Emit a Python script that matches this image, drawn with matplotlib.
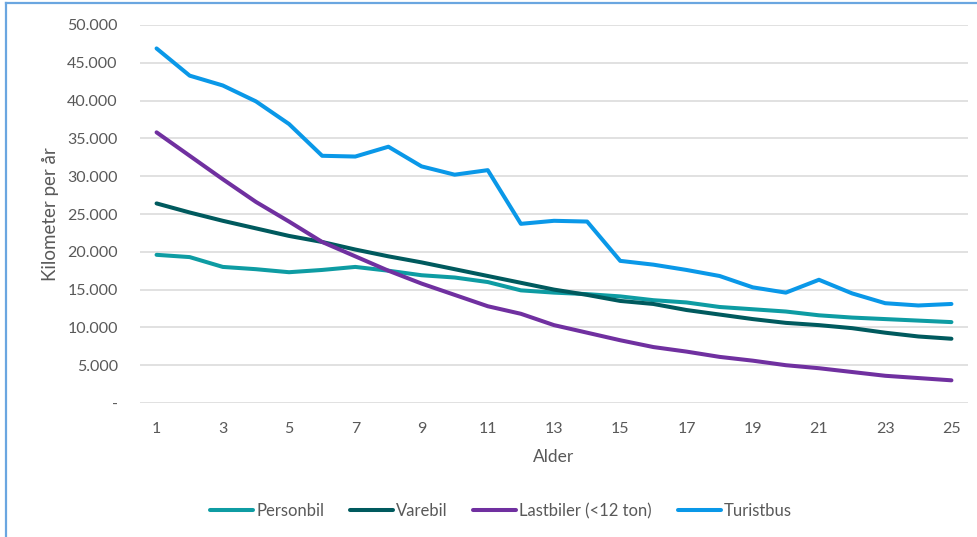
import matplotlib.pyplot as plt
from matplotlib.lines import Line2D
from matplotlib.ticker import FuncFormatter

# Kilometer per år fordelt på køretøjets alder
alder = list(range(1, 26))
personbil = [19600, 19300, 18000, 17700, 17300, 17600, 18000, 17500, 16900, 16600,
             16000, 14900, 14600, 14400, 14100, 13600, 13300, 12700, 12400, 12100,
             11600, 11300, 11100, 10900, 10700]
varebil = [26400, 25200, 24100, 23100, 22100, 21300, 20300, 19400, 18600, 17700,
           16800, 15900, 15000, 14300, 13500, 13100, 12300, 11700, 11100, 10600,
           10300, 9900, 9300, 8800, 8500]
lastbiler = [35800, 32700, 29600, 26600, 24000, 21300, 19400, 17500, 15800, 14300,
             12800, 11800, 10300, 9300, 8300, 7400, 6800, 6100, 5600, 5000,
             4600, 4100, 3600, 3300, 3000]
turistbus = [46900, 43300, 42000, 39900, 36900, 32700, 32600, 33900, 31300, 30200,
             30800, 23700, 24100, 24000, 18800, 18300, 17600, 16800, 15300, 14600,
             16300, 14500, 13200, 12900, 13100]

serier = [("Personbil", personbil, "#0E9CA3"),
          ("Varebil", varebil, "#005A5E"),
          ("Lastbiler (<12 ton)", lastbiler, "#7030A0"),
          ("Turistbus", turistbus, "#0A98E8")]

plt.rcParams['font.family'] = ['Lato', 'DejaVu Sans']
tekst = "#595959"

fig = plt.figure(figsize=(9.78, 5.37), dpi=100)
ax = fig.add_axes([140 / 978, 1 - 403 / 537, 828 / 978, 378 / 537])

for navn, vals, farve in serier:
    ax.plot(alder, vals, color=farve, lw=2.9, label=navn, solid_capstyle='round',
            solid_joinstyle='round')

ax.set_xlim(0.5, 25.5)
ax.set_ylim(0, 50000)
ax.set_yticks(range(0, 50001, 5000))
ax.set_xticks(alder[::2])
ax.yaxis.set_major_formatter(FuncFormatter(
    lambda v, p: "-" if v == 0 else f"{int(v):,}".replace(",", ".")))
ax.grid(axis='y', color="#D9D9D9", lw=1.1)
ax.set_axisbelow(True)
for s in ax.spines.values():
    s.set_visible(False)
ax.tick_params(length=0, labelsize=11.5, labelcolor=tekst)
ax.tick_params(axis='y', pad=16)
ax.tick_params(axis='x', pad=14)
ax.set_xlabel("Alder", fontsize=12.5, color=tekst, labelpad=9)
ax.set_ylabel("Kilometer per år", fontsize=13.5, color=tekst, labelpad=6)

fig.legend(loc='center', bbox_to_anchor=(501 / 978, 1 - 511 / 537), ncol=4,
           frameon=False, fontsize=12, handlelength=2.58, handletextpad=0.18,
           columnspacing=1.55, labelcolor=tekst)

# ramme om figuren
kant = "#6AA6E0"
fig.add_artist(Line2D([6 / 978, 6 / 978], [0, 1 - 3 / 537], transform=fig.transFigure,
                      color=kant, lw=1.6))
fig.add_artist(Line2D([6 / 978, 1], [1 - 3 / 537, 1 - 3 / 537], transform=fig.transFigure,
                      color=kant, lw=1.6))

fig.savefig("out.png", dpi=100)
